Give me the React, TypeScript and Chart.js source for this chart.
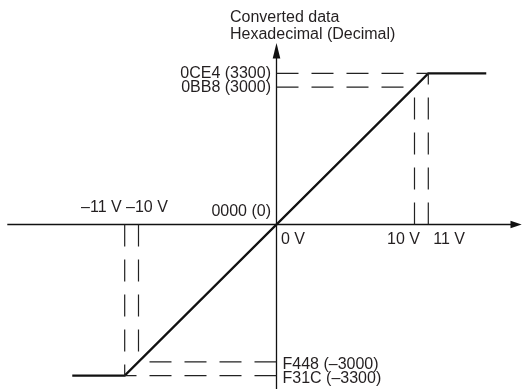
import React, { useEffect, useRef } from "react";
import { Chart, registerables } from "chart.js";

Chart.register(...registerables);

// Transfer characteristic (input voltage V -> converted value)
const inputVolts = [-14.8, -11, 11, 15.2];
const convertedValues = [-3300, -3300, 3300, 3300];

// Reference guide points (voltage <-> converted value)
const guideVolts = [10, 11, -10, -11];
const guideValues = [3000, 3300, -3000, -3300];

// Tick labels
const yTickValues = [3300, 3000, 0, -3000, -3300];
const yTickLabels = ["0CE4 (3300)", "0BB8 (3000)", "0000 (0)", "F448 (–3000)", "F31C (–3300)"];
const xTickValues = [-11, -10, 0, 10, 11];
const xTickLabels = ["–11 V", "–10 V", "0 V", "10 V", "11 V"];

const yTitleLines = ["Converted data", "Hexadecimal (Decimal)"];

const X_MIN = -20.036;
const X_MAX = 17.79;
const Y_MIN = -3591.7;
const Y_MAX = 4901.7;

const FONT = '16px "Liberation Sans", Arial, Helvetica, sans-serif';
const TEXT_COLOR = "#231f20";

const axesPlugin = {
  id: "diagramAxes",
  beforeDatasetsDraw(chart: any) {
    const ctx = chart.ctx;
    const xs = chart.scales.x;
    const ys = chart.scales.y;
    const ox = xs.getPixelForValue(0);
    const oy = ys.getPixelForValue(0);
    ctx.save();
    ctx.strokeStyle = "#111";
    ctx.fillStyle = "#111";
    ctx.lineWidth = 1.3;
    // x axis
    ctx.beginPath();
    ctx.moveTo(7.3, oy);
    ctx.lineTo(512, oy);
    ctx.stroke();
    ctx.beginPath();
    ctx.moveTo(521.7, oy);
    ctx.lineTo(510.5, oy - 3.8);
    ctx.lineTo(510.5, oy + 3.8);
    ctx.closePath();
    ctx.fill();
    // y axis
    ctx.beginPath();
    ctx.moveTo(ox, 389);
    ctx.lineTo(ox, 57);
    ctx.stroke();
    ctx.beginPath();
    ctx.moveTo(ox, 43);
    ctx.lineTo(ox - 3.8, 58.5);
    ctx.lineTo(ox + 3.8, 58.5);
    ctx.closePath();
    ctx.fill();
    ctx.restore();
  },
  afterDraw(chart: any) {
    const ctx = chart.ctx;
    const xs = chart.scales.x;
    const ys = chart.scales.y;
    const ox = xs.getPixelForValue(0);
    const oy = ys.getPixelForValue(0);
    ctx.save();
    ctx.font = FONT;
    ctx.fillStyle = TEXT_COLOR;
    ctx.textBaseline = "alphabetic";
    ctx.textAlign = "left";
    ctx.fillText(yTitleLines[0], 230, 21.5);
    ctx.fillText(yTitleLines[1], 230, 38.5);

    ctx.textBaseline = "middle";
    yTickValues.forEach((v, i) => {
      const py = ys.getPixelForValue(v);
      if (v > 0) {
        ctx.textAlign = "right";
        ctx.fillText(yTickLabels[i], ox - 5.5, py + 0.5);
      } else if (v === 0) {
        ctx.textAlign = "right";
        ctx.fillText(yTickLabels[i], ox - 5.5, oy - 13);
      } else {
        ctx.textAlign = "left";
        ctx.fillText(yTickLabels[i], ox + 6, py + 3);
      }
    });

    xTickValues.forEach((v, i) => {
      const px = xs.getPixelForValue(v);
      if (v === -11) {
        ctx.textAlign = "right";
        ctx.fillText(xTickLabels[i], px - 3, oy - 16.5);
      } else if (v === -10) {
        ctx.textAlign = "left";
        ctx.fillText(xTickLabels[i], px - 12.5, oy - 16.5);
      } else if (v === 0) {
        ctx.textAlign = "left";
        ctx.fillText(xTickLabels[i], ox + 4.5, oy + 15);
      } else if (v === 10) {
        ctx.textAlign = "right";
        ctx.fillText(xTickLabels[i], px + 5.5, oy + 15);
      } else {
        ctx.textAlign = "left";
        ctx.fillText(xTickLabels[i], px + 5, oy + 15);
      }
    });
    ctx.restore();
  },
};

export default function App() {
  const canvasRef = useRef<HTMLCanvasElement | null>(null);

  useEffect(() => {
    if (!canvasRef.current) return;
    const dashStyle = {
      borderColor: "#222",
      borderWidth: 1.2,
      borderDash: [22, 13],
      pointRadius: 0,
      showLine: true,
      fill: false,
    };
    const guides: any[] = [];
    guideVolts.forEach((v, i) => {
      guides.push({
        ...dashStyle,
        data: [
          { x: 0, y: guideValues[i] },
          { x: v, y: guideValues[i] },
        ],
      });
      guides.push({
        ...dashStyle,
        data: [
          { x: v, y: 0 },
          { x: v, y: guideValues[i] },
        ],
      });
    });

    const chart = new Chart(canvasRef.current, {
      type: "scatter",
      data: {
        datasets: [
          ...guides,
          {
            data: inputVolts.map((x, i) => ({ x, y: convertedValues[i] })),
            borderColor: "#111",
            borderWidth: 2.3,
            pointRadius: 0,
            showLine: true,
            fill: false,
          },
        ],
      },
      options: {
        responsive: false,
        animation: false,
        layout: { padding: 0 },
        plugins: { legend: { display: false }, tooltip: { enabled: false } },
        scales: {
          x: { type: "linear", display: false, min: X_MIN, max: X_MAX },
          y: { type: "linear", display: false, min: Y_MIN, max: Y_MAX },
        },
      },
      plugins: [axesPlugin],
    } as any);
    return () => chart.destroy();
  }, []);

  return (
    <div style={{ position: "absolute", left: 0, top: 0, width: 522, height: 389, background: "#fff" }}>
      <canvas ref={canvasRef} width={522} height={389} style={{ display: "block" }} />
    </div>
  );
}
